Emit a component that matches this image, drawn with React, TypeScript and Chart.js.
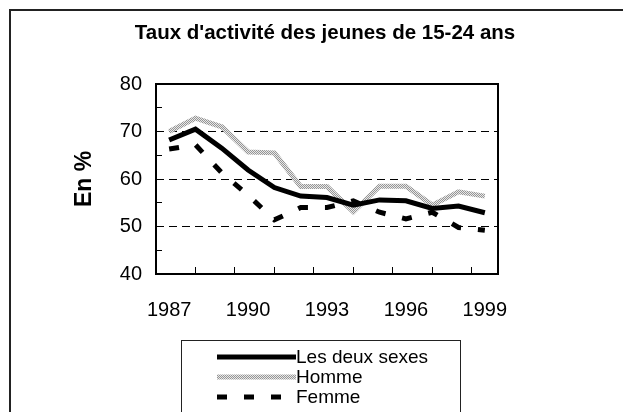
import { useEffect, useRef } from 'react';
import { Chart, registerables } from 'chart.js';

Chart.register(...registerables);

const titleText = "Taux d'activité des jeunes de 15-24 ans";
const yAxisTitle = 'En %';
const years = [1987, 1988, 1989, 1990, 1991, 1992, 1993, 1994, 1995, 1996, 1997, 1998, 1999];
const labelYears = [1987, 1990, 1993, 1996, 1999];
const tickMarkYears = [1988, 1989.5, 1991, 1992.5, 1994, 1995.5, 1997, 1998.5];
const yTicks = [40, 50, 60, 70, 80];
const seriesNames = ['Les deux sexes', 'Homme', 'Femme'];
const deuxSexes = [68.2, 70.5, 66.5, 61.9, 58.2, 56.4, 56.1, 54.5, 55.6, 55.4, 53.8, 54.3, 52.9];
const homme = [70.0, 72.8, 71.0, 65.7, 65.5, 58.4, 58.4, 53.1, 58.5, 58.5, 54.5, 57.3, 56.4];
const femme = [66.3, 67.2, 61.3, 56.6, 51.4, 54.0, 54.0, 55.4, 53.0, 51.6, 53.0, 49.8, 49.2];

const FONT = "'Liberation Sans', Arial, sans-serif";
const FEMME_DASH = [10, 17];

function makePattern(ctx: CanvasRenderingContext2D): CanvasPattern | string {
  const c = document.createElement('canvas');
  c.width = 2;
  c.height = 2;
  const g = c.getContext('2d');
  if (!g) return '#c0c0c0';
  g.fillStyle = '#e8e8e8';
  g.fillRect(0, 0, 2, 2);
  g.fillStyle = '#959595';
  g.fillRect(0, 0, 1, 1);
  g.fillRect(1, 1, 1, 1);
  return ctx.createPattern(c, 'repeat') || '#c0c0c0';
}

export default function App() {
  const ref = useRef<HTMLCanvasElement | null>(null);

  useEffect(() => {
    const canvas = ref.current;
    if (!canvas) return;
    const ctx = canvas.getContext('2d');
    if (!ctx) return;
    const grayPattern = makePattern(ctx);

    const toPoints = (vals: number[]) => years.map((yr, i) => ({ x: yr, y: vals[i] }));

    const framePlugin = {
      id: 'frame',
      beforeDraw(chart: any) {
        const c = chart.ctx;
        c.save();
        c.strokeStyle = '#222';
        c.lineWidth = 2;
        c.strokeRect(2, 2, chart.width + 20, chart.height + 20);
        c.restore();
      },
      afterDatasetsDraw(chart: any) {
        const a = chart.chartArea;
        const c = chart.ctx;
        c.save();
        c.strokeStyle = '#000';
        c.lineWidth = 2;
        c.strokeRect(a.left, a.top, a.right - a.left, a.bottom - a.top);
        c.restore();
      },
      afterDraw(chart: any) {
        const c = chart.ctx;
        const boxLeft = 173;
        const boxTop = 332;
        const boxWidth = 279;
        c.save();
        c.strokeStyle = '#222';
        c.lineWidth = 1;
        c.strokeRect(boxLeft + 0.5, boxTop + 0.5, boxWidth, chart.height);
        const lineStart = boxLeft + 36;
        const lineEnd = boxLeft + 115;
        chart.data.datasets.forEach((ds: any, i: number) => {
          const y = boxTop + 17 + i * 20;
          c.beginPath();
          c.setLineDash(ds.borderDash || []);
          c.lineDashOffset = 0;
          c.strokeStyle = ds.borderColor;
          c.lineWidth = ds.borderWidth;
          c.lineCap = 'butt';
          c.moveTo(lineStart, y);
          c.lineTo(lineEnd, y);
          c.stroke();
          c.setLineDash([]);
          c.fillStyle = '#000';
          c.font = `19px ${FONT}`;
          c.textBaseline = 'middle';
          c.textAlign = 'left';
          c.fillText(ds.label, lineEnd, y + 1);
        });
        c.restore();
      },
    };

    const common = {
      pointRadius: 0,
      pointHoverRadius: 0,
      borderWidth: 5,
      fill: false,
      tension: 0,
      borderJoinStyle: 'miter' as const,
      borderCapStyle: 'butt' as const,
    };

    const chart = new Chart(ctx, {
      type: 'line',
      data: {
        datasets: [
          { ...common, label: seriesNames[0], data: toPoints(deuxSexes), borderColor: '#000' },
          { ...common, label: seriesNames[1], data: toPoints(homme), borderColor: grayPattern as any },
          { ...common, label: seriesNames[2], data: toPoints(femme), borderColor: '#000', borderDash: FEMME_DASH },
        ],
      },
      options: {
        animation: false,
        responsive: false,
        events: [],
        layout: { padding: { left: 50, right: 39, top: 0, bottom: 78 } },
        plugins: {
          legend: { display: false },
          tooltip: { enabled: false },
          title: {
            display: true,
            fullSize: true,
            text: titleText,
            color: '#000',
            font: { family: FONT, size: 20.5, weight: 'bold' },
            padding: { top: 13, bottom: 38.4 },
          },
        },
        scales: {
          x: {
            type: 'linear',
            min: years[0] - 0.5,
            max: years[years.length - 1] + 0.5,
            afterBuildTicks: (s: any) => {
              s.ticks = [...labelYears, ...tickMarkYears].sort((a, b) => a - b).map((v) => ({ value: v }));
            },
            afterFit: (s: any) => {
              s.height = 60;
            },
            border: { display: false },
            grid: {
              drawOnChartArea: false,
              drawTicks: true,
              tickLength: -7,
              lineWidth: 1,
              tickColor: (c: any) => (c.tick && tickMarkYears.includes(c.tick.value) ? '#000' : 'rgba(0,0,0,0)'),
            },
            ticks: {
              autoSkip: false,
              maxRotation: 0,
              minRotation: 0,
              padding: 31,
              color: '#000',
              font: { family: FONT, size: 20 },
              callback: (v: any) => (labelYears.includes(Number(v)) ? String(v) : ''),
            },
          },
          y: {
            min: yTicks[0],
            max: yTicks[yTicks.length - 1],
            afterFit: (s: any) => {
              s.width = 98;
            },
            border: { display: false, dash: [8, 5] },
            grid: {
              drawTicks: true,
              tickLength: -6,
              lineWidth: 1,
              tickBorderDash: [],
              color: (c: any) =>
                c.tick && yTicks.includes(c.tick.value) && c.tick.value > yTicks[0] && c.tick.value < yTicks[yTicks.length - 1]
                  ? '#000'
                  : 'rgba(0,0,0,0)',
              tickColor: '#000',
            },
            ticks: {
              stepSize: 5,
              autoSkip: false,
              padding: 20,
              color: '#000',
              font: { family: FONT, size: 20 },
              callback: (v: any) => (yTicks.includes(Number(v)) ? String(v) : ''),
            },
            title: {
              display: true,
              text: yAxisTitle,
              color: '#000',
              font: { family: FONT, size: 23, weight: 'bold' },
              padding: { top: 13, bottom: 0 },
            },
          },
          spacer: {
            type: 'linear',
            position: 'right',
            display: true,
            afterFit: (s: any) => {
              s.width = 94;
            },
            border: { display: false },
            grid: { display: false },
            ticks: { display: false },
          },
        },
      },
      plugins: [framePlugin],
    });

    return () => chart.destroy();
  }, []);

  return <canvas ref={ref} width={623} height={404} style={{ display: 'block' }} />;
}
